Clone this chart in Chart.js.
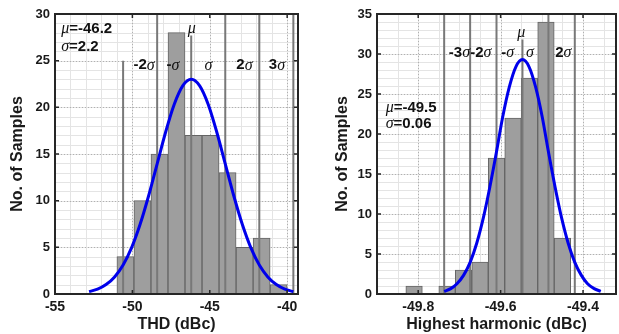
<!DOCTYPE html>
<html><head><meta charset="utf-8">
<script src="https://cdn.jsdelivr.net/npm/chart.js@4.4.1/dist/chart.umd.min.js"></script>
<style>
html,body{margin:0;padding:0;background:#fff;width:619px;height:334px;overflow:hidden}
.box{position:absolute;top:0;height:334px}
#b1{left:0;width:310px}
#b2{left:310px;width:309px}
</style></head><body>
<div class="box" id="b1"><canvas id="c1"></canvas></div>
<div class="box" id="b2"><canvas id="c2"></canvas></div>
<script>
// ---------- Left panel: THD ----------
const thdBinCenters = [-50.45,-49.35,-48.25,-47.15,-46.05,-44.95,-43.85,-42.75,-41.65,-40.55];
const thdCounts     = [4,10,15,28,17,17,13,5,6,1];
const thdFitX = [-52.8,-52.25,-51.7,-51.15,-50.6,-50.05,-49.5,-48.95,-48.4,-47.85,-47.3,-46.75,-46.2,
                 -45.65,-45.1,-44.55,-44.0,-43.45,-42.9,-42.35,-41.8,-41.25,-40.7,-40.15,-39.6];
const thdFitY = [0.26,0.52,1.01,1.83,3.11,4.97,7.47,10.53,13.95,17.36,20.30,22.29,23.0,
                 22.29,20.30,17.36,13.95,10.53,7.47,4.97,3.11,1.83,1.01,0.52,0.26];
const thdSigmaX   = [-50.6,-48.4,-46.2,-44.0,-41.8,-39.6];
const thdSigmaTop = [25,30,27.7,30,30,30];
const thdXTicks = [-55,-50,-45,-40];
const thdYTicks = [0,5,10,15,20,25,30];
const thdNotes = [
  {x:-54.6, y:28.4, align:'left', parts:[['μ','i'],['=-46.2','b']]},
  {x:-54.6, y:26.5, align:'left', parts:[['σ','i'],['=2.2','b']]},
  {x:-46.17, y:28.4, parts:[['μ','i']]},
  {x:-49.25, y:24.5, parts:[['-2','b'],['σ','i']]},
  {x:-47.38, y:24.5, parts:[['-','b'],['σ','i']]},
  {x:-45.08, y:24.5, parts:[['σ','i']]},
  {x:-42.76, y:24.5, parts:[['2','b'],['σ','i']]},
  {x:-40.66, y:24.5, parts:[['3','b'],['σ','i']]}
];

// ---------- Right panel: Highest harmonic ----------
const hhBinCenters = [-49.81,-49.77,-49.73,-49.69,-49.65,-49.61,-49.57,-49.53,-49.49,-49.45];
const hhCounts     = [1,0,1,3,4,17,22,27,34,7];
const hhFitX = [-49.737,-49.721,-49.706,-49.690,-49.674,-49.658,-49.642,-49.626,-49.610,-49.595,-49.579,-49.563,-49.547,
                -49.531,-49.515,-49.499,-49.484,-49.468,-49.452,-49.436,-49.420,-49.404,-49.389,-49.373,-49.357];
const hhFitY = [0.33,0.67,1.29,2.33,3.96,6.34,9.51,13.41,17.77,22.12,25.86,28.40,29.3,
                28.40,25.86,22.12,17.77,13.41,9.51,6.34,3.96,2.33,1.29,0.67,0.33];
const hhSigmaX   = [-49.737,-49.674,-49.610,-49.547,-49.484,-49.420];
const hhSigmaTop = [35,35,35,31.8,35,35];
const hhXTicks = [-49.8,-49.6,-49.4];
const hhYTicks = [0,5,10,15,20,25,30,35];
const hhNotes = [
  {x:-49.879, y:23.25, align:'left', parts:[['μ','i'],['=-49.5','b']]},
  {x:-49.879, y:21.3, align:'left', parts:[['σ','i'],['=0.06','b']]},
  {x:-49.550, y:32.7, parts:[['μ','i']]},
  {x:-49.700, y:30.1, parts:[['-3','b'],['σ','i']]},
  {x:-49.648, y:30.1, parts:[['-2','b'],['σ','i']]},
  {x:-49.583, y:30.1, parts:[['-','b'],['σ','i']]},
  {x:-49.529, y:30.1, parts:[['σ','i']]},
  {x:-49.448, y:30.1, parts:[['2','b'],['σ','i']]}
];

const SANS = '"Liberation Sans", Arial, sans-serif';
const SERIF = '"Liberation Serif", "Times New Roman", serif';

const matlabAxes = {
  id: 'matlabAxes',
  beforeDatasetsDraw(chart, args, o) {
    const {ctx, chartArea: a, scales: {x, y}} = chart;
    ctx.save();
    ctx.lineWidth = 1;
    ctx.strokeStyle = '#e4e4e4';
    const eps = 1e-9;
    for (let k = Math.ceil(x.min / o.xMinor - eps); k * o.xMinor <= x.max + eps; k++) {
      const px = Math.round(x.getPixelForValue(k * o.xMinor)) + 0.5;
      ctx.beginPath(); ctx.moveTo(px, a.top); ctx.lineTo(px, a.bottom); ctx.stroke();
    }
    for (let k = Math.ceil(y.min / o.yMinor - eps); k * o.yMinor <= y.max + eps; k++) {
      const py = Math.round(y.getPixelForValue(k * o.yMinor)) + 0.5;
      ctx.beginPath(); ctx.moveTo(a.left, py); ctx.lineTo(a.right, py); ctx.stroke();
    }
    ctx.strokeStyle = '#b0b0b0';
    ctx.setLineDash([1, 2]);
    o.xTicks.forEach(v => {
      const px = Math.round(x.getPixelForValue(v)) + 0.5;
      ctx.beginPath(); ctx.moveTo(px, a.top); ctx.lineTo(px, a.bottom); ctx.stroke();
    });
    o.yTicks.forEach(v => {
      const py = Math.round(y.getPixelForValue(v)) + 0.5;
      ctx.beginPath(); ctx.moveTo(a.left, py); ctx.lineTo(a.right, py); ctx.stroke();
    });
    ctx.restore();
  },
  afterDatasetsDraw(chart, args, o) {
    const {ctx, chartArea: a, scales: {x, y}} = chart;
    ctx.save();
    ctx.strokeStyle = '#262626';
    ctx.lineWidth = 1.5;
    o.xTicks.forEach(v => {
      const px = x.getPixelForValue(v);
      ctx.beginPath(); ctx.moveTo(px, a.bottom); ctx.lineTo(px, a.bottom - 4);
      ctx.moveTo(px, a.top); ctx.lineTo(px, a.top + 4); ctx.stroke();
    });
    o.yTicks.forEach(v => {
      const py = y.getPixelForValue(v);
      ctx.beginPath(); ctx.moveTo(a.left, py); ctx.lineTo(a.left + 4, py);
      ctx.moveTo(a.right, py); ctx.lineTo(a.right - 4, py); ctx.stroke();
    });
    ctx.lineWidth = 2;
    ctx.strokeRect(a.left, a.top, a.right - a.left, a.bottom - a.top);
    // annotations
    ctx.fillStyle = '#111';
    ctx.textBaseline = 'middle';
    o.notes.forEach(n => {
      const fonts = n.parts.map(p => p[1] === 'b' ? 'bold 15px ' + SANS : 'italic 16px ' + SERIF);
      let w = 0;
      const widths = n.parts.map((p, i) => { ctx.font = fonts[i]; const m = ctx.measureText(p[0]).width; w += m; return m; });
      let px = x.getPixelForValue(n.x);
      const py = y.getPixelForValue(n.y);
      if (n.align !== 'left') px -= w / 2;
      n.parts.forEach((p, i) => {
        ctx.font = fonts[i];
        ctx.textAlign = 'left';
        ctx.fillText(p[0], px, py);
        px += widths[i];
      });
    });
    ctx.restore();
  }
};

function makeChart(id, cfg) {
  const bars = cfg.centers.map((c, i) => ({x: c, y: cfg.counts[i]}));
  const fit = cfg.fitX.map((v, i) => ({x: v, y: cfg.fitY[i]}));
  const sig = [];
  cfg.sigX.forEach((v, i) => { sig.push({x: v, y: 0}, {x: v, y: cfg.sigTop[i]}, {x: v, y: null}); });
  return new Chart(document.getElementById(id), {
    type: 'bar',
    data: {
      datasets: [
        {type: 'line', data: fit, borderColor: 'rgb(0,0,235)', borderWidth: 3, pointRadius: 0,
         cubicInterpolationMode: 'monotone', fill: false, order: 1},
        {type: 'line', data: sig, borderColor: 'rgb(120,120,120)', borderWidth: 2, pointRadius: 0,
         spanGaps: false, fill: false, order: 2, tension: 0},
        {type: 'bar', data: bars, backgroundColor: 'rgb(158,158,158)', borderColor: 'rgb(100,100,100)',
         borderWidth: 1, barPercentage: 1, categoryPercentage: 1, grouped: false, order: 3}
      ]
    },
    options: {
      responsive: true, maintainAspectRatio: false, animation: false,
      layout: {padding: cfg.pad},
      plugins: {legend: {display: false}, tooltip: {enabled: false},
        matlabAxes: {xTicks: cfg.xTicks, yTicks: cfg.yTicks, xMinor: cfg.xMinor, yMinor: 1, notes: cfg.notes}},
      scales: {
        x: {type: 'linear', min: cfg.xMin, max: cfg.xMax, offset: false,
            grid: {display: false, drawTicks: false}, border: {display: false},
            afterBuildTicks: s => { s.ticks = cfg.xTicks.map(v => ({value: v})); },
            afterFit: s => { s.height = 40; },
            ticks: {padding: 5, color: '#1a1a1a', font: {family: SANS, size: 14, weight: 'bold'},
                    callback: cfg.xFmt, maxRotation: 0, autoSkip: false},
            title: {display: true, text: cfg.xTitle, color: '#1a1a1a', padding: {top: 0, bottom: 0},
                    font: {family: SANS, size: 16, weight: 'bold'}}},
        y: {min: 0, max: cfg.yMax,
            grid: {display: false, drawTicks: false}, border: {display: false},
            afterBuildTicks: s => { s.ticks = cfg.yTicks.map(v => ({value: v})); },
            afterFit: s => { s.width = cfg.yW; },
            ticks: {padding: 5, color: '#1a1a1a', font: {family: SANS, size: 13, weight: 'bold'}},
            title: {display: true, text: 'No. of Samples', color: '#1a1a1a', padding: {top: cfg.yTitlePad, bottom: 0},
                    font: {family: SANS, size: 16, weight: 'bold'}}}
      }
    },
    plugins: [matlabAxes]
  });
}

makeChart('c1', {
  centers: thdBinCenters, counts: thdCounts, fitX: thdFitX, fitY: thdFitY,
  sigX: thdSigmaX, sigTop: thdSigmaTop, xTicks: thdXTicks, yTicks: thdYTicks, notes: thdNotes,
  xMin: -55, xMax: -39.3, yMax: 30, xMinor: 1, xTitle: 'THD (dBc)',
  xFmt: v => String(v), pad: {top: 14, right: 12, left: 0, bottom: 0}, yW: 55, yTitlePad: 8
});
makeChart('c2', {
  centers: hhBinCenters, counts: hhCounts, fitX: hhFitX, fitY: hhFitY,
  sigX: hhSigmaX, sigTop: hhSigmaTop, xTicks: hhXTicks, yTicks: hhYTicks, notes: hhNotes,
  xMin: -49.9, xMax: -49.32, yMax: 35, xMinor: 0.05, xTitle: 'Highest harmonic (dBc)',
  xFmt: v => Number(v).toFixed(1), pad: {top: 14, right: 3, left: 0, bottom: 0}, yW: 67, yTitlePad: 23
});
</script>
</body></html>
